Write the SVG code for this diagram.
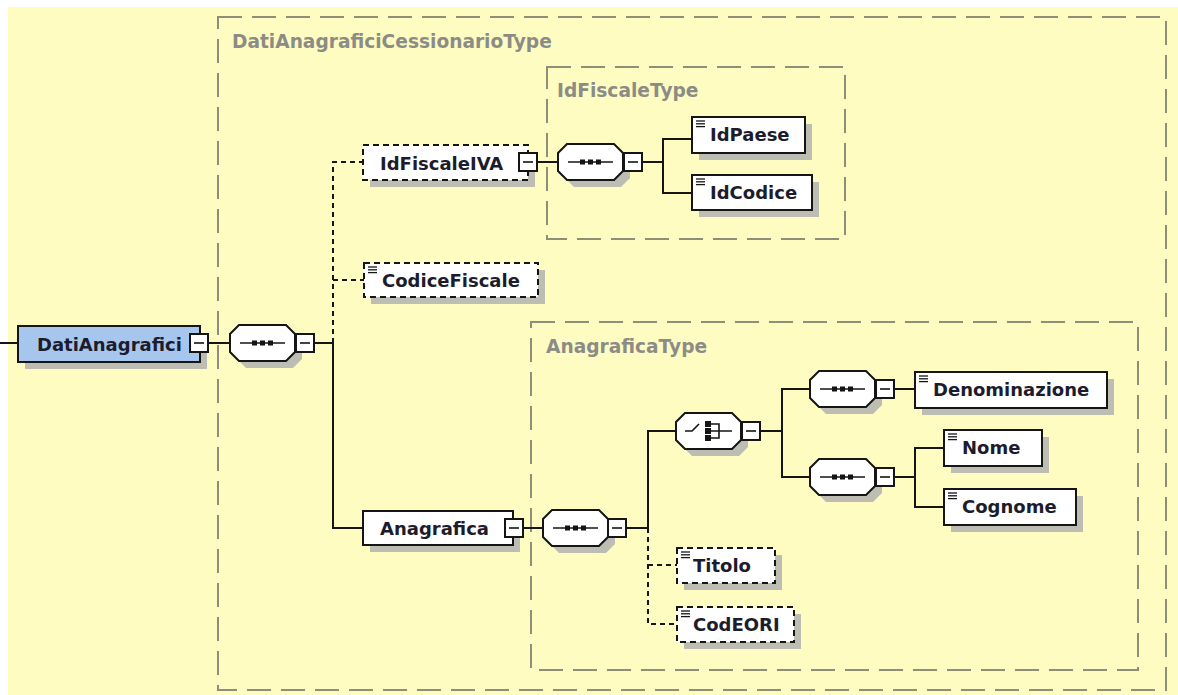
<svg xmlns="http://www.w3.org/2000/svg" xmlns:xlink="http://www.w3.org/1999/xlink" width="1178" height="695" viewBox="0 0 1178 695">
<style>
.typebox{fill:none;stroke:#8e8e7a;stroke-width:2;stroke-dasharray:24 10}
.typelabel{font-family:"DejaVu Sans",sans-serif;font-weight:bold;font-size:18.6px;fill:#8c8c86}
.shadow{fill:#bdbdb4;stroke:none}
.box{fill:#fff;stroke:#151515;stroke-width:2}
.opt{stroke-dasharray:6 4}
.root{fill:#a6c6ee}
.label{font-family:"DejaVu Sans",sans-serif;font-weight:bold;font-size:18px;fill:#1c1c2c}
.conn path{fill:none;stroke:#151515;stroke-width:2}
.conn .dash{stroke-dasharray:5 4}
.ico{stroke:#151515;stroke-width:1.3}
</style>
<defs>
<path id="oct" d="M9,0 H56 L65,9 V27 L56,36 H9 L0,27 V9 Z"/>
<g id="minus"><rect x="0" y="0" width="18" height="18" fill="#fff" stroke="#151515" stroke-width="2"/><line x1="4" y1="9" x2="14" y2="9" stroke="#151515" stroke-width="1.6"/></g>
<g id="seq"><use xlink:href="#oct" class="shadow" transform="translate(7,7)"/><use xlink:href="#oct" class="box"/><line x1="10" y1="18" x2="55" y2="18" stroke="#151515" stroke-width="1.6"/><rect x="22" y="15.5" width="5" height="5" fill="#151515"/><rect x="30" y="15.5" width="5" height="5" fill="#151515"/><rect x="38" y="15.5" width="5" height="5" fill="#151515"/></g>
<g id="elicon"><line x1="4" y1="4" x2="13" y2="4" class="ico"/><line x1="4" y1="6.8" x2="13" y2="6.8" class="ico"/><line x1="4" y1="9.6" x2="13" y2="9.6" class="ico"/></g>
</defs>
<rect x="0" y="0" width="1178" height="695" fill="#ffffff"/>
<rect x="8" y="7" width="1170" height="688" fill="#fffcc2"/>

<g id="type-DatiAnagraficiCessionarioType">
<rect class="typebox" x="218" y="17" width="948" height="673"/>
<text class="typelabel" x="232" y="48">DatiAnagraficiCessionarioType</text>
</g>
<g id="type-IdFiscaleType">
<rect class="typebox" x="547" y="67" width="298" height="172"/>
<text class="typelabel" x="557" y="97">IdFiscaleType</text>
</g>
<g id="type-AnagraficaType">
<rect class="typebox" x="531" y="322" width="607" height="348"/>
<text class="typelabel" x="546" y="353">AnagraficaType</text>
</g>

<g class="conn" id="connectors">
<path d="M0,343 H18"/>
<path d="M208,343 H230"/>
<path d="M314,343 H333 V528 H363"/>
<path class="dash" d="M333,343 V162 H363"/>
<path class="dash" d="M333,280 H364"/>
<path d="M537,162 H558"/>
<path d="M642,162 H663"/>
<path d="M692,139 H663 V193 H692"/>
<path d="M523,528 H543"/>
<path d="M626,528 H648"/>
<path d="M676,431 H648 V528"/>
<path class="dash" d="M648,528 V624 H677"/>
<path class="dash" d="M648,565 H677"/>
<path d="M760,431 H782"/>
<path d="M810,389 H782 V477 H810"/>
<path d="M894,389 H915"/>
<path d="M894,477 H915"/>
<path d="M944,448 H915 V507 H944"/>
</g>

<g id="node-DatiAnagrafici">
<rect class="shadow" x="25" y="333" width="182" height="36"/>
<rect class="box root" x="18" y="326" width="182" height="36"/>
<text class="label" x="37" y="351">DatiAnagrafici</text>
<use xlink:href="#minus" x="190" y="334"/>
</g>
<g id="node-seq1"><use xlink:href="#seq" transform="translate(230,325)"/><use xlink:href="#minus" x="296" y="334"/></g>

<g id="node-IdFiscaleIVA">
<rect class="shadow" x="370" y="152" width="165" height="35"/>
<rect class="box opt" x="363" y="145" width="165" height="35"/>
<text class="label" x="380" y="170">IdFiscaleIVA</text>
<use xlink:href="#minus" x="519" y="153"/>
</g>
<g id="node-seq2"><use xlink:href="#seq" transform="translate(558,144)"/><use xlink:href="#minus" x="624" y="153"/></g>

<g id="node-IdPaese">
<rect class="shadow" x="699" y="124" width="113" height="36"/>
<rect class="box" x="692" y="117" width="113" height="36"/>
<use xlink:href="#elicon" transform="translate(692,117)"/>
<text class="label" x="710" y="141">IdPaese</text>
</g>
<g id="node-IdCodice">
<rect class="shadow" x="699" y="182" width="120" height="35"/>
<rect class="box" x="692" y="175" width="120" height="35"/>
<use xlink:href="#elicon" transform="translate(692,175)"/>
<text class="label" x="710" y="199">IdCodice</text>
</g>

<g id="node-CodiceFiscale">
<rect class="shadow" x="371" y="270" width="174" height="34"/>
<rect class="box opt" x="364" y="263" width="174" height="34"/>
<use xlink:href="#elicon" transform="translate(364,263)"/>
<text class="label" x="382" y="287">CodiceFiscale</text>
</g>

<g id="node-Anagrafica">
<rect class="shadow" x="370" y="518" width="150" height="34"/>
<rect class="box" x="363" y="511" width="150" height="34"/>
<text class="label" x="380" y="535">Anagrafica</text>
<use xlink:href="#minus" x="505" y="519"/>
</g>
<g id="node-seq3"><use xlink:href="#seq" transform="translate(543,510)"/><use xlink:href="#minus" x="608" y="519"/></g>

<g id="node-choice">
<g transform="translate(676,413)">
<use xlink:href="#oct" class="shadow" transform="translate(7,7)"/>
<use xlink:href="#oct" class="box"/>
<path d="M9,18 H16 L23,11" fill="none" stroke="#151515" stroke-width="1.6"/>
<rect x="29" y="8" width="6" height="6" fill="#151515"/>
<rect x="29" y="15" width="6" height="6" fill="#151515"/>
<rect x="29" y="22" width="6" height="6" fill="#151515"/>
<path d="M35,11 H43 V25 H35 M35,18 H56" fill="none" stroke="#151515" stroke-width="1.6"/>
</g>
<use xlink:href="#minus" x="742" y="422"/>
</g>

<g id="node-seq4"><use xlink:href="#seq" transform="translate(810,371)"/><use xlink:href="#minus" x="876" y="380"/></g>
<g id="node-seq5"><use xlink:href="#seq" transform="translate(810,459)"/><use xlink:href="#minus" x="876" y="468"/></g>

<g id="node-Denominazione">
<rect class="shadow" x="922" y="379" width="192" height="36"/>
<rect class="box" x="915" y="372" width="192" height="36"/>
<use xlink:href="#elicon" transform="translate(915,372)"/>
<text class="label" x="933" y="396">Denominazione</text>
</g>
<g id="node-Nome">
<rect class="shadow" x="951" y="437" width="98" height="36"/>
<rect class="box" x="944" y="430" width="98" height="36"/>
<use xlink:href="#elicon" transform="translate(944,430)"/>
<text class="label" x="962" y="454">Nome</text>
</g>
<g id="node-Cognome">
<rect class="shadow" x="951" y="496" width="132" height="36"/>
<rect class="box" x="944" y="489" width="132" height="36"/>
<use xlink:href="#elicon" transform="translate(944,489)"/>
<text class="label" x="962" y="513">Cognome</text>
</g>
<g id="node-Titolo">
<rect class="shadow" x="684" y="555" width="98" height="35"/>
<rect class="box opt" x="677" y="548" width="98" height="35"/>
<use xlink:href="#elicon" transform="translate(677,548)"/>
<text class="label" x="693" y="572">Titolo</text>
</g>
<g id="node-CodEORI">
<rect class="shadow" x="684" y="614" width="117" height="35"/>
<rect class="box opt" x="677" y="607" width="117" height="35"/>
<use xlink:href="#elicon" transform="translate(677,607)"/>
<text class="label" x="693" y="631">CodEORI</text>
</g>
</svg>
